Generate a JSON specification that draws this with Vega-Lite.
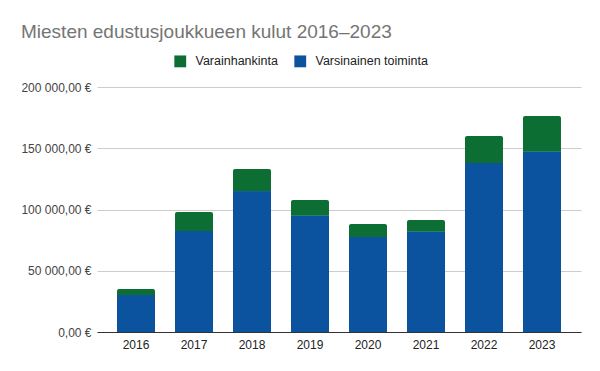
{
  "$schema": "https://vega.github.io/schema/vega-lite/v6.json",
  "width": 484,
  "height": 245,
  "autosize": {"type": "none"},
  "padding": {"left": 97, "top": 87, "right": 19, "bottom": 39},
  "title": {
    "text": "Miesten edustusjoukkueen kulut 2016–2023",
    "anchor": "start",
    "frame": "group",
    "dx": -76,
    "fontSize": 19,
    "fontWeight": "normal",
    "font": "Liberation Sans",
    "color": "#757575",
    "offset": 13
  },
  "data": {
    "values": [
      {"year": "2016", "series": "Varsinainen toiminta", "value": 30200},
      {"year": "2016", "series": "Varainhankinta", "value": 4900},
      {"year": "2017", "series": "Varsinainen toiminta", "value": 82400},
      {"year": "2017", "series": "Varainhankinta", "value": 15500},
      {"year": "2018", "series": "Varsinainen toiminta", "value": 115000},
      {"year": "2018", "series": "Varainhankinta", "value": 18000},
      {"year": "2019", "series": "Varsinainen toiminta", "value": 94900},
      {"year": "2019", "series": "Varainhankinta", "value": 12800},
      {"year": "2020", "series": "Varsinainen toiminta", "value": 77500},
      {"year": "2020", "series": "Varainhankinta", "value": 10600},
      {"year": "2021", "series": "Varsinainen toiminta", "value": 81900},
      {"year": "2021", "series": "Varainhankinta", "value": 9500},
      {"year": "2022", "series": "Varsinainen toiminta", "value": 138000},
      {"year": "2022", "series": "Varainhankinta", "value": 22000},
      {"year": "2023", "series": "Varsinainen toiminta", "value": 147200},
      {"year": "2023", "series": "Varainhankinta", "value": 29100}
    ]
  },
  "encoding": {
    "x": {
      "field": "year",
      "type": "nominal",
      "scale": {"paddingInner": 0.345, "paddingOuter": 0.345},
      "axis": {
        "title": null,
        "labelAngle": 0,
        "ticks": false,
        "labelPadding": 7,
        "labelFontSize": 12,
        "labelFont": "Liberation Sans",
        "labelColor": "#222222",
        "domainColor": "#333333",
        "domainWidth": 1
      }
    },
    "y": {
      "field": "value",
      "type": "quantitative",
      "stack": "zero",
      "scale": {"domain": [0, 200000], "nice": false},
      "axis": {
        "title": null,
        "values": [0, 50000, 100000, 150000, 200000],
        "format": "$,.2f",
        "domain": false,
        "ticks": false,
        "labelPadding": 6,
        "labelFontSize": 12,
        "labelFont": "Liberation Sans",
        "labelColor": "#444444",
        "gridColor": "#cccccc"
      }
    },
    "color": {
      "field": "series",
      "type": "nominal",
      "scale": {
        "domain": ["Varainhankinta", "Varsinainen toiminta"],
        "range": ["#0d6e33", "#0b539e"]
      },
      "legend": {
        "title": null,
        "orient": "none",
        "legendX": 77,
        "legendY": -32,
        "direction": "horizontal",
        "symbolType": "square",
        "symbolSize": 140,
        "symbolStrokeWidth": 0,
        "labelFontSize": 12.5,
        "labelFont": "Liberation Sans",
        "labelColor": "#222222",
        "columnPadding": 16,
        "labelOffset": 9
      }
    },
    "order": {"field": "series", "sort": "descending"}
  },
  "layer": [
    {
      "mark": {"type": "bar", "cornerRadiusTopLeft": 2, "cornerRadiusTopRight": 2}
    },
    {
      "transform": [{"filter": "datum.series === 'Varsinainen toiminta'"}],
      "mark": {"type": "bar"}
    }
  ],
  "config": {
    "view": {"stroke": null},
    "locale": {
      "number": {
        "decimal": ",",
        "thousands": " ",
        "grouping": [3],
        "currency": ["", " €"]
      }
    }
  }
}
